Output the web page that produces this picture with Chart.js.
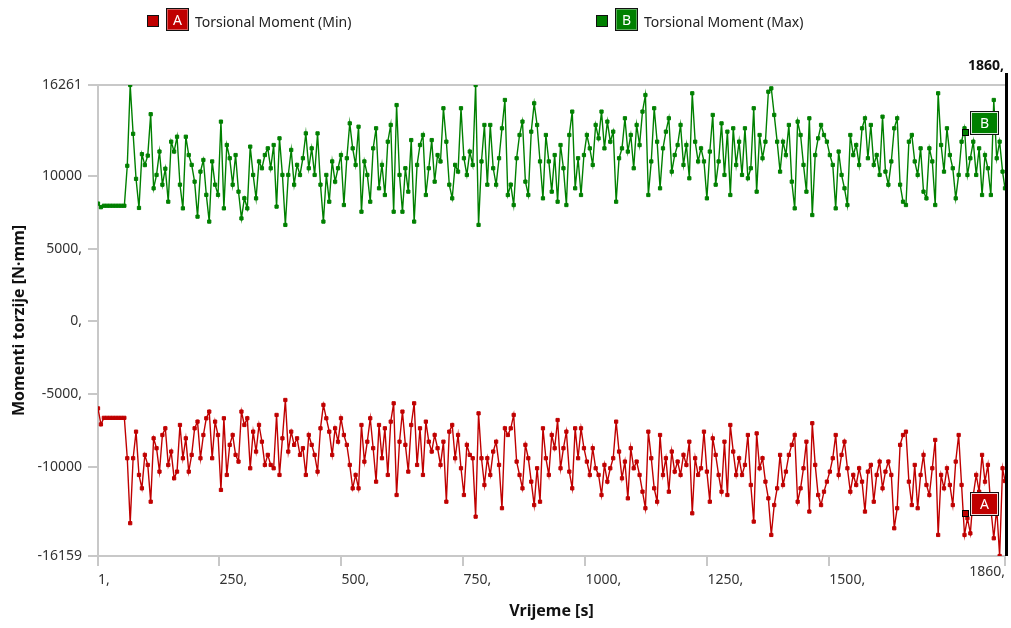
<!DOCTYPE html>
<html>
<head>
<meta charset="utf-8">
<script src="https://cdn.jsdelivr.net/npm/chart.js@4.4.1/dist/chart.umd.min.js"></script>
<style>
  html, body { margin: 0; padding: 0; background: #ffffff; }
  #wrap { position: relative; width: 1011px; height: 628px; overflow: hidden; background: #fff; }
  #chart { position: absolute; left: 0; top: 0; }
  .sw { position: absolute; box-sizing: border-box; border: 1px solid #111; }
  .badge { position: absolute; box-sizing: border-box; border: 1px solid #111; color: #fff;
           font-family: "Noto Sans", sans-serif; font-size: 14px; line-height: 21px; text-align: center;
           box-shadow: inset 0 0 0 1px rgba(255,255,255,0.35); }
  .ltxt { position: absolute; font-family: "Noto Sans", sans-serif; font-size: 14px; color: #222; line-height: 20px; white-space: nowrap; }
</style>
</head>
<body>
<div id="wrap">
  <canvas id="chart" width="1011" height="628"></canvas>
  <div class="sw" style="left:147px;top:15px;width:12px;height:12px;background:#c00000;"></div>
  <div class="badge" style="left:166px;top:8px;width:23px;height:23px;background:#c00000;">A</div>
  <div class="ltxt" style="left:195px;top:12px;">Torsional Moment (Min)</div>
  <div class="sw" style="left:596px;top:15px;width:12px;height:12px;background:#008000;"></div>
  <div class="badge" style="left:615px;top:8px;width:23px;height:23px;background:#008000;">B</div>
  <div class="ltxt" style="left:644px;top:12px;">Torsional Moment (Max)</div>
</div>
<script>
// ---- data ----
const timeStart = 1;
const timeStep = 6;
const timeEnd = 1860;

const maxMoment = [
  8100,7850,7950,7950,7950,7950,7950,7950,7950,7950,
  10700,16261,12900,9800,7800,11500,10750,11400,14250,9150,
  10070,11680,9400,10500,8230,12360,11680,12700,9400,7770,
  12700,11440,10760,9610,7200,10300,11100,8700,6860,11000,
  9400,8700,13740,7770,12130,11220,9400,11440,8920,7080,
  8460,7770,12020,10070,8460,11000,10530,11440,11900,10530,
  12130,7890,12590,10070,6630,10070,11790,9400,10760,10070,
  11220,12930,10530,11900,10070,12930,9400,6860,10070,8230,
  11000,9610,10530,11440,8000,11220,13620,11900,10760,13390,
  7540,11000,10070,8230,11900,13280,9150,10760,8690,12360,
  13510,7540,14880,10070,7540,10530,8920,12470,6860,10760,
  12130,12820,8690,10530,12470,9610,11440,11000,14660,12360,
  9400,8460,10760,10300,14660,11220,10070,11680,10760,16260,
  6630,11000,13510,9400,13510,10530,9400,11220,13280,15230,
  8690,9400,8000,11220,12820,13740,9610,8690,13050,15000,
  13510,11000,8460,12820,11000,8920,11440,8230,12130,10530,
  8000,12820,14430,9150,11220,8690,11440,12820,11900,10760,
  13510,12590,14430,11900,13740,12360,13050,8230,11220,11900,
  13970,11680,12820,10530,13510,12130,14430,15570,8690,11000,
  14660,12360,9150,11900,13050,13970,10300,11440,12130,13510,
  10760,12130,9840,15690,12360,11000,11900,11000,8460,11680,
  14200,9400,11000,13620,10070,13050,8690,13280,10760,12360,
  10070,13280,9840,10530,14660,8920,12820,11220,12360,15800,
  16030,14200,12360,10300,12360,11440,13510,9610,7770,13740,
  12820,10760,8920,13970,7310,11440,12590,13510,12820,12360,
  11440,10760,7770,11680,10070,9150,8000,12820,11440,12130,
  10760,13280,13970,11220,13510,10760,11440,10070,14080,10300,
  9400,11000,13280,13970,9400,8230,8000,12360,12820,11000,
  10070,11900,8920,8460,11900,11000,8000,15690,12130,10300,
  13280,11440,10530,8460,10070,12360,13280,10070,11220,12360,
  10070,11900,8690,11440,10530,8690,15230,11220,12360,10300,
  9150
];

const minMoment = [
  -6000,-7100,-6650,-6650,-6650,-6650,-6650,-6650,-6650,-6650,
  -9430,-13900,-9430,-7600,-10580,-11500,-9200,-9890,-12420,-8060,
  -8740,-10350,-7830,-7370,-9890,-8970,-10810,-10350,-7140,-9430,
  -8060,-10350,-9200,-7370,-6910,-9430,-7830,-6680,-6220,-9430,
  -6910,-7830,-11610,-6680,-10580,-8510,-7830,-9200,-9660,-6220,
  -7140,-6680,-10120,-7600,-8970,-7140,-8290,-9890,-9200,-9890,
  -10120,-6450,-10580,-8060,-5420,-8970,-7600,-8510,-8060,-9200,
  -8740,-10580,-7830,-8510,-9200,-10350,-7370,-5760,-6680,-7600,
  -9200,-7370,-8290,-6680,-7830,-8510,-9890,-11500,-10580,-11500,
  -7140,-9660,-8290,-6680,-8740,-11040,-7140,-9430,-7370,-10580,
  -6910,-5650,-11960,-8290,-6220,-8510,-10350,-7140,-5650,-9890,
  -7370,-10580,-6910,-8290,-8970,-7830,-8740,-9890,-8290,-12420,
  -7600,-7140,-9430,-7830,-10120,-11960,-8510,-9200,-9430,-13450,
  -6340,-9430,-11270,-9430,-10580,-8970,-8290,-9890,-12870,-7370,
  -7830,-7370,-6450,-9660,-10580,-11500,-8510,-9430,-11040,-12650,
  -10120,-12420,-7370,-9430,-10580,-7830,-8740,-6800,-10120,-8740,
  -7600,-10350,-11500,-7370,-9430,-7370,-8740,-9660,-10580,-8740,
  -10120,-10580,-11960,-9890,-11040,-10120,-9430,-6910,-8970,-10810,
  -9660,-12190,-8740,-10120,-9660,-10580,-11730,-12870,-7600,-9430,
  -11500,-12420,-7830,-10580,-9430,-11730,-8970,-10350,-9660,-10580,
  -9200,-9890,-8290,-13220,-9430,-10580,-10120,-7600,-10350,-12420,
  -8060,-9200,-10580,-11730,-8290,-11960,-7140,-8970,-10580,-9430,
  -10580,-9890,-7830,-11270,-13790,-7720,-10120,-9430,-11040,-12190,
  -14710,-12650,-11500,-9200,-11270,-10350,-9200,-8510,-7830,-12420,
  -11500,-10120,-8290,-13100,-7020,-9890,-11960,-12650,-11730,-11040,
  -10350,-9430,-7830,-10580,-9200,-8290,-10120,-11730,-10580,-11270,
  -10120,-11040,-13100,-10350,-9890,-12420,-10580,-9660,-11500,-10350,
  -9660,-10580,-14250,-12870,-8510,-7830,-7600,-11040,-12650,-9890,
  -12870,-10580,-9200,-11270,-11960,-10120,-8170,-14710,-10580,-11500,
  -10120,-11270,-12650,-9660,-7830,-11270,-14710,-13560,-14600,-11960,
  -10580,-11730,-9200,-11040,-9890,-12870,-14940,-12870,-16159,-10120,
  -11000
];

const yMin = -16159;
const yMax = 16261;
const yTickValues = [-16159, -10000, -5000, 0, 5000, 10000, 16261];
const yTickLabels = ['-16159', '-10000', '-5000,', '0,', '5000,', '10000', '16261'];
const xTickValues = [1, 250, 500, 750, 1000, 1250, 1500, 1860];
const xTickLabels = ['1,', '250,', '500,', '750,', '1000,', '1250,', '1500,', '1860,'];

const cursorTime = 1860;
const cursorLabel = '1860,';
const probeTime = 1777;
const probeMin = -13200;
const probeMax = 13030;

// ---- build ----
const times = [];
for (let t = timeStart; t < timeEnd; t += timeStep) times.push(t);
times.push(timeEnd);

const RED = '#c00000';
const GREEN = '#008000';
const FONT = '"Noto Sans", sans-serif';
Chart.defaults.font.family = FONT;

const overlay = {
  id: 'overlay',
  afterDraw(chart) {
    const ctx = chart.ctx;
    const xs = chart.scales.x, ys = chart.scales.y;
    const area = chart.chartArea;
    ctx.save();
    const items = xs.getLabelItems();
    const ref = items[0];
    ctx.font = '14px ' + FONT;
    ctx.fillStyle = '#333';
    ctx.textAlign = 'right';
    ctx.textBaseline = ref ? ref.options.textBaseline : 'top';
    const ly = ref ? ref.options.translation[1] : xs.top + 14;
    ctx.fillText(xTickLabels[xTickLabels.length - 1], xs.getPixelForValue(xTickValues[xTickValues.length - 1]), ly);

    const cx = xs.getPixelForValue(cursorTime);
    ctx.fillStyle = '#000';
    ctx.fillRect(cx, 73, 3, area.bottom - 73);
    ctx.font = 'bold 14px ' + FONT;
    ctx.textAlign = 'right';
    ctx.textBaseline = 'alphabetic';
    ctx.fillStyle = '#111';
    ctx.fillText(cursorLabel, cx - 1, 70);

    const probes = [[probeMax, GREEN, 'B'], [probeMin, RED, 'A']];
    for (const [v, col, letter] of probes) {
      const px = Math.round(xs.getPixelForValue(probeTime));
      const py = Math.round(ys.getPixelForValue(v));
      ctx.fillStyle = col;
      ctx.fillRect(px - 3, py - 3, 6, 6);
      ctx.strokeStyle = '#000';
      ctx.lineWidth = 1;
      ctx.strokeRect(px - 2.5, py - 2.5, 6, 6);
      const bx = px + 5, by = py - 21, bw = 29, bh = 24;
      ctx.fillStyle = col;
      ctx.fillRect(bx, by, bw, bh);
      ctx.strokeStyle = '#111';
      ctx.strokeRect(bx + 0.5, by + 0.5, bw - 1, bh - 1);
      ctx.strokeStyle = 'rgba(255,255,255,0.85)';
      ctx.strokeRect(bx + 1.5, by + 1.5, bw - 3, bh - 3);
      ctx.fillStyle = '#fff';
      ctx.font = '14px ' + FONT;
      ctx.textAlign = 'center';
      ctx.textBaseline = 'middle';
      ctx.fillText(letter, bx + bw / 2, by + bh / 2 + 1);
    }
    ctx.restore();
  }
};

new Chart(document.getElementById('chart').getContext('2d'), {
  type: 'line',
  data: {
    datasets: [
      {
        label: 'Torsional Moment (Min)',
        data: times.map((t, i) => ({ x: t, y: minMoment[i] })),
        borderColor: RED, backgroundColor: RED,
        pointStyle: 'rect', pointRadius: 2.3, pointBorderWidth: 1,
        borderWidth: 1.4, tension: 0
      },
      {
        label: 'Torsional Moment (Max)',
        data: times.map((t, i) => ({ x: t, y: maxMoment[i] })),
        borderColor: GREEN, backgroundColor: GREEN,
        pointStyle: 'rect', pointRadius: 2.3, pointBorderWidth: 1,
        borderWidth: 1.4, tension: 0
      }
    ]
  },
  options: {
    responsive: false,
    animation: false,
    events: [],
    layout: { padding: { top: 85, right: 3, left: 0, bottom: 0 } },
    plugins: { legend: { display: false }, tooltip: { enabled: false } },
    scales: {
      x: {
        type: 'linear', min: 1, max: 1860,
        afterBuildTicks: s => { s.ticks = xTickValues.map(v => ({ value: v })); },
        afterFit: s => { s.height = 72; },
        ticks: {
          align: 'start', autoSkip: false, maxRotation: 0, padding: 6,
          font: { size: 14 }, color: '#333',
          callback: (v) => { const i = xTickValues.indexOf(v); return i === xTickValues.length - 1 ? '' : xTickLabels[i]; }
        },
        grid: { drawOnChartArea: false, tickLength: 10, color: '#c8c8c8', lineWidth: 2 },
        border: { color: '#c8c8c8', width: 2 },
        title: { display: true, text: 'Vrijeme [s]', font: { size: 16, weight: 'bold' }, color: '#111', padding: { top: 0, bottom: 7 } }
      },
      y: {
        type: 'linear', min: yMin, max: yMax,
        afterBuildTicks: s => { s.ticks = yTickValues.map(v => ({ value: v })); },
        afterFit: s => { s.width = 98; },
        ticks: {
          autoSkip: false, padding: 6, font: { size: 14 }, color: '#333',
          callback: (v) => yTickLabels[yTickValues.indexOf(v)]
        },
        grid: {
          color: c => (c.tick && c.tick.value === yMax) ? '#c8c8c8' : 'rgba(0,0,0,0)',
          tickColor: '#c8c8c8', tickLength: 10, lineWidth: 2
        },
        border: { color: '#c8c8c8', width: 2 },
        title: { display: true, text: 'Momenti torzije [N·mm]', font: { size: 16, weight: 'bold' }, color: '#111', padding: { top: 10, bottom: 0 } }
      }
    }
  },
  plugins: [overlay]
});
</script>
</body>
</html>
